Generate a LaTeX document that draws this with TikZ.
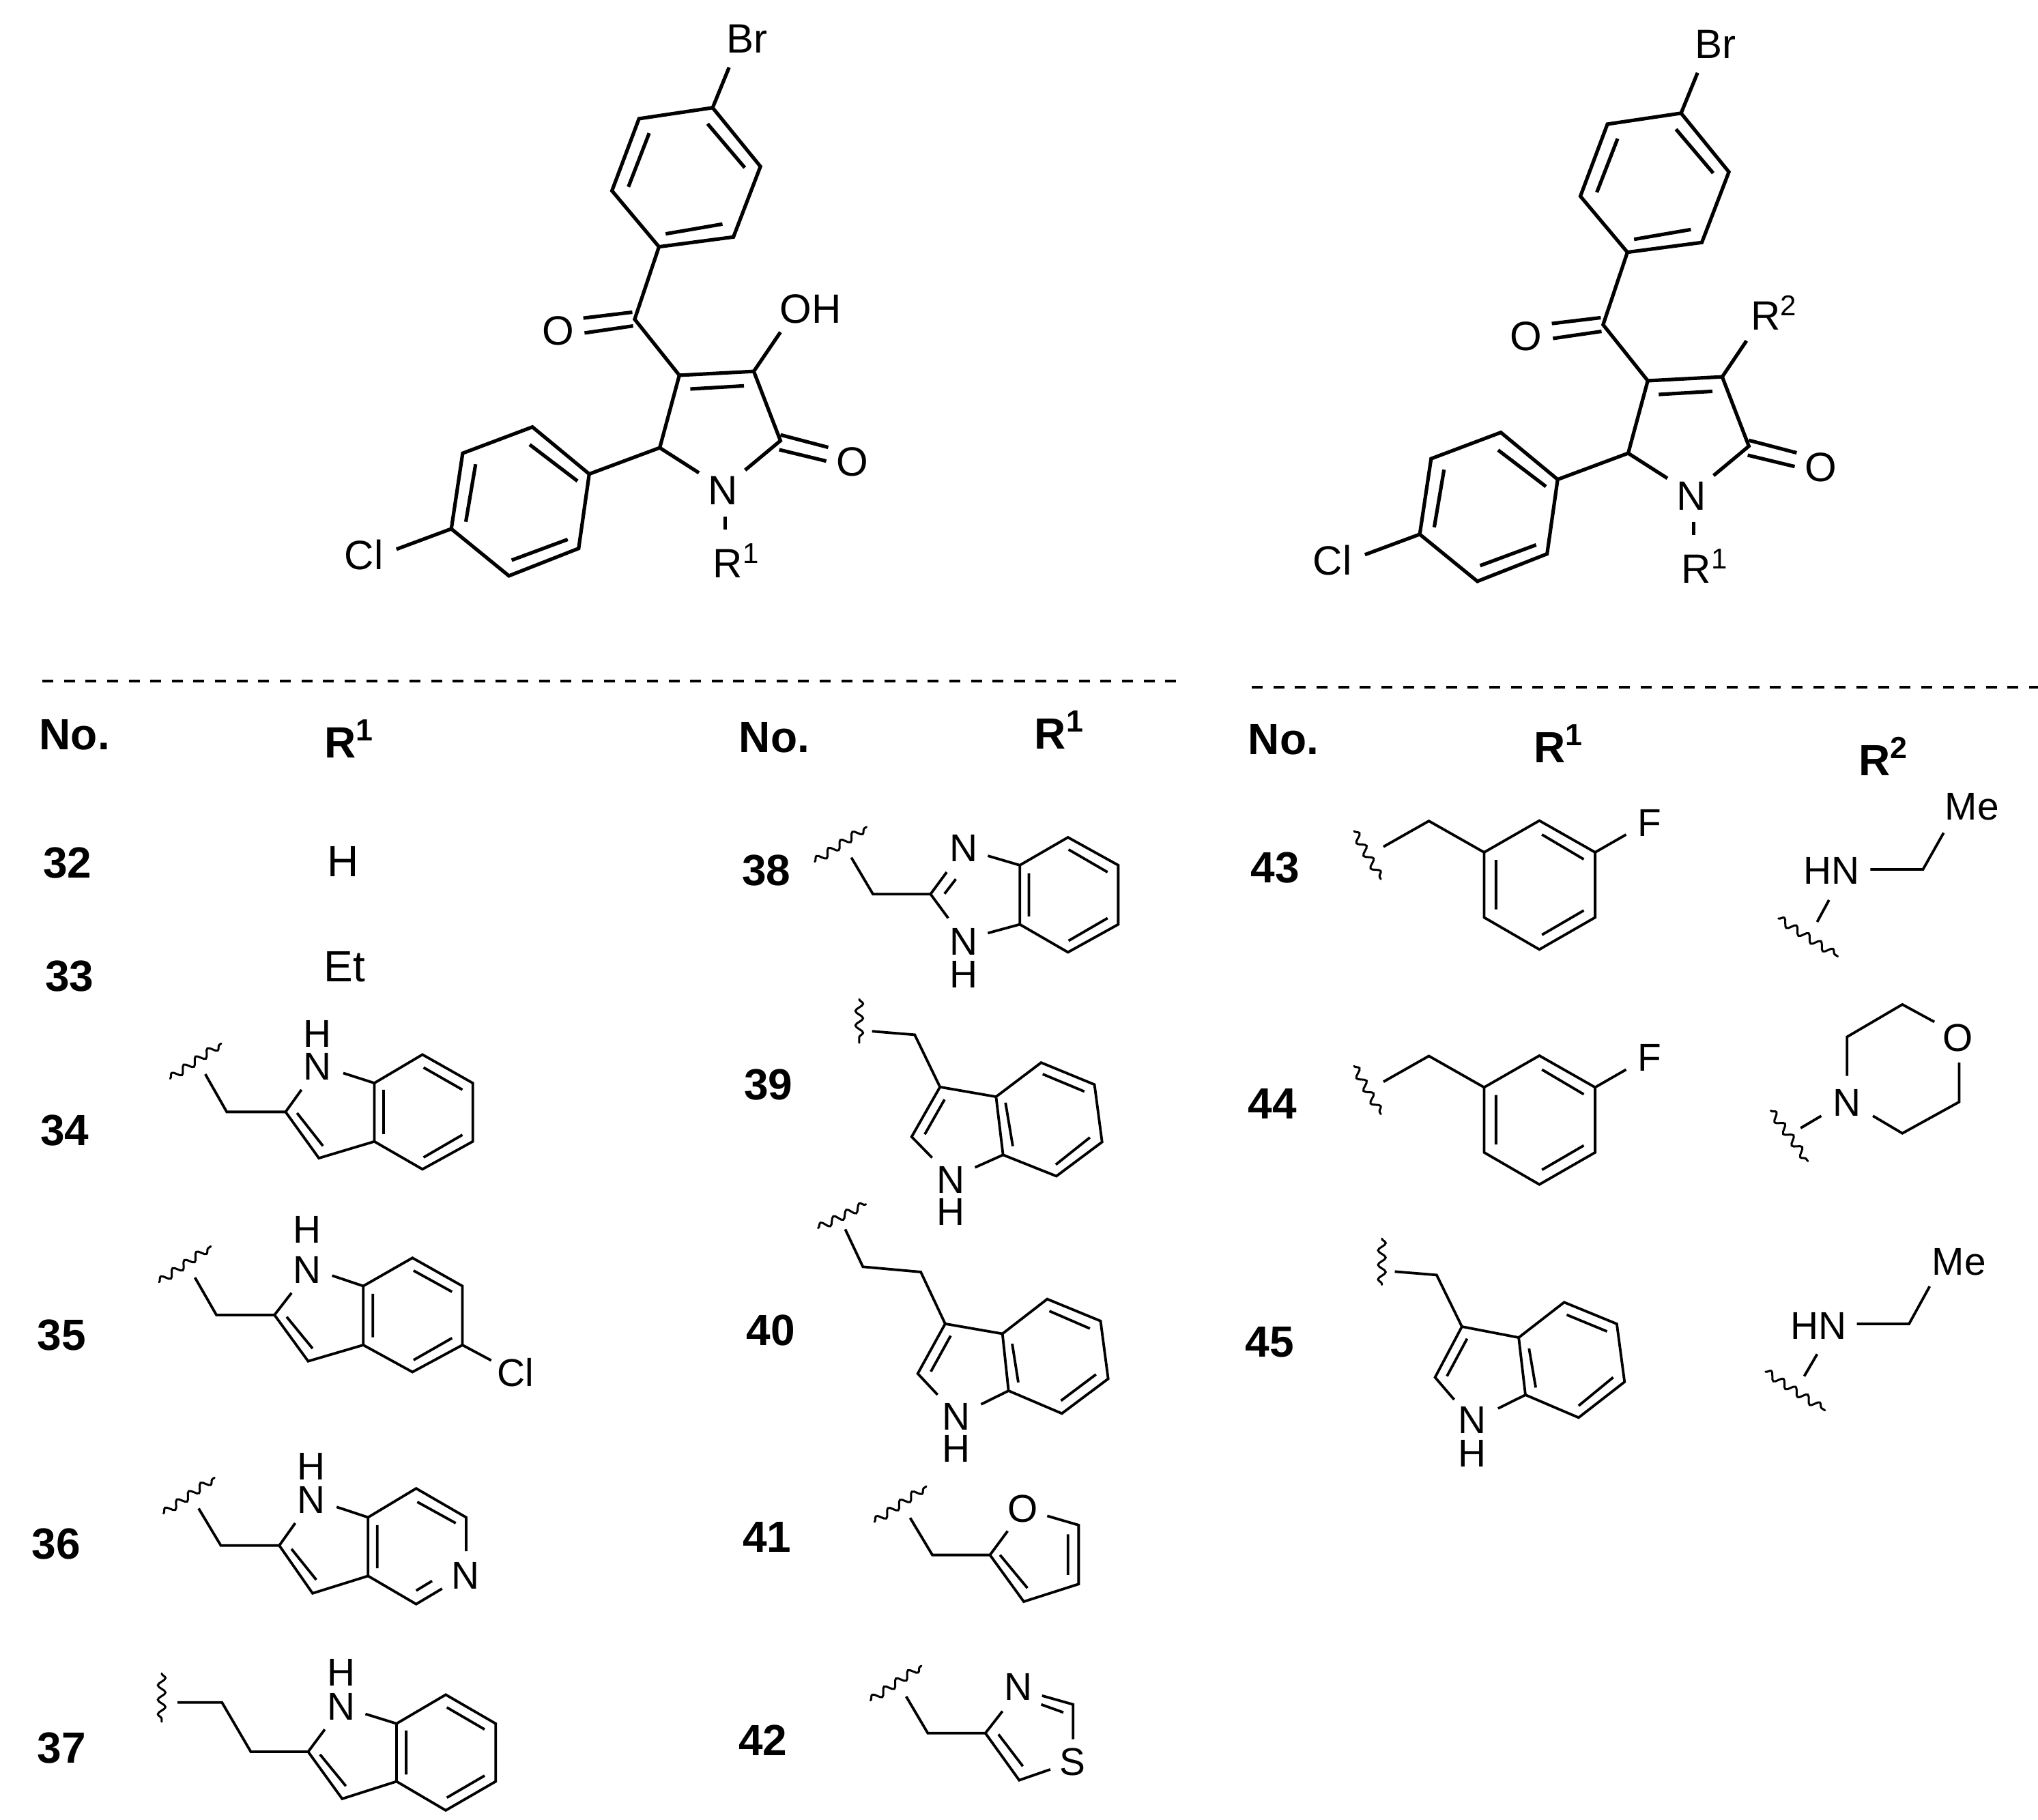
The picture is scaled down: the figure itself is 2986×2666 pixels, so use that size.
\documentclass[tikz,border=0pt]{standalone}
\usepackage{fontspec}
\setmainfont{Liberation Sans}
\usetikzlibrary{decorations.pathmorphing}
\tikzset{
  main/.style={line width=1.3pt,line join=miter,line cap=butt},
  bond/.style={line width=.95pt,line join=miter,line cap=butt},
  wavy/.style={line width=.75pt,line cap=round,decorate,decoration={snake,segment length=5.3pt,amplitude=1.4pt,pre length=0pt,post length=0pt}},
  sep/.style={line width=.95pt,dash pattern=on 4pt off 3.91pt},
  big/.style={font=\fontsize{15}{15}\selectfont,inner sep=0pt,anchor=base},
  bigl/.style={big,anchor=base west},
  lab/.style={font=\fontsize{14.2}{14.2}\selectfont,inner sep=0pt,anchor=base},
  plain/.style={font=\fontsize{16}{16}\selectfont,inner sep=0pt,anchor=base},
  num/.style={font=\fontsize{16}{16}\selectfont\bfseries,inner sep=0pt,anchor=base},
  numl/.style={num,anchor=base west},
  za/.style={x=.14351pt,y=-.14351pt},
  zc/.style={x=.1355pt,y=-.1355pt},
  zd/.style={x=.1355pt,y=-.14124pt},
  ze/.style={x=.11161pt,y=-.12755pt},
  zf/.style={x=.11161pt,y=-.14603pt},
  zg/.style={x=.18911pt,y=-.12755pt},
  zh/.style={x=.18911pt,y=-.08333pt},
}
\newcommand\corepart[1]{%
  \node[big] (#1Br) at (1122,135) {Br};
  \node[big] (#1Oa) at (640,880) {O};
  \node[big] (#1Ob) at (1392,1215) {O};
  \node[big] (#1N) at (1062,1288) {N};
  \node[big] (#1Cl) at (145,1453) {Cl};
  \node[bigl] (#1Ra) at (1035,1475) {R\textsuperscript{1}};
  \draw[main] (1077,172) -- (1035,275);
  \draw[main] (1035,275) -- (847,303) -- (778,487) -- (898,630) -- (1088,605) -- (1157,425) -- cycle;
  \draw[main] (1022,316) -- (1117,428) (873,340) -- (820,477) (915,597) -- (1060,572);
  \draw[main] (898,630) -- (836,815) -- (950,958);
  \draw[main] (705,812) -- (830,797) (708,850) -- (832,832);
  \draw[main] (950,958) -- (1140,948) -- (1208,1125) -- (1118,1200);
  \draw[main] (978,993) -- (1115,985);
  \draw[main] (1208,1110) -- (1330,1142) (1205,1148) -- (1325,1177);
  \draw[main] (1000,1207) -- (900,1143) -- (950,958);
  \draw[main] (1067,1318) -- (1067,1352);
  \draw[main] (900,1143) -- (720,1210);
  \draw[main] (720,1210) -- (575,1090) -- (397,1157) -- (368,1350) -- (515,1470) -- (693,1400) -- cycle;
  \draw[main] (568,1135) -- (690,1228) (430,1185) -- (405,1332) (522,1430) -- (665,1377);
  \draw[main] (368,1350) -- (228,1402);
}
\begin{document}
\begin{tikzpicture}[x=.25pt,y=-.25pt]
\useasboundingbox (0,0) rectangle (2986,2666);
\fill[white] (0,0) rectangle (2986,2666);
% top structures
\begin{scope}[shift={(450,0)},za]
  \corepart{a}
  \node[big] (aOH) at (1285,825) {OH};
  \draw[main] (1140,948) -- (1208,848);
\end{scope}
\begin{scope}[shift={(1868.9,8)},za]
  \corepart{b}
  \node[bigl] (bRb) at (1212,828) {R\textsuperscript{2}};
  \draw[main] (1140,948) -- (1202,856);
\end{scope}
% separators
\coordinate (sa) at (62,998);
\coordinate (sb) at (1723,998);
\coordinate (sc) at (1834,1007);
\coordinate (sd) at (2986,1007);
\draw[sep] (sa) -- (sb);
\draw[sep] (sc) -- (sd);
% column 1 top
\begin{scope}[shift={(0,960)},zc]
  \node[numl] (noa) at (105,255) {No.};
  \node[numl] (rah) at (875,277) {R\textsuperscript{1}};
  \node[num] (n32) at (182,603) {32};
  \node[num] (n33) at (188,908) {33};
  \node[num] (n34) at (175,1325) {34};
  \node[plain] (hh) at (927,598) {H};
  \node[plain] (et) at (932,882) {Et};
  \node[lab] (h34) at (858,1060) {H};
  \node[lab] (n34a) at (858,1148) {N};
  \draw[wavy] (460,1145) -- (598,1050);
  \draw[bond] (555,1133) -- (613,1235) -- (772,1235) -- (815,1175) (928,1130) -- (1012,1157);
  \draw[bond] (1012,1157) -- (1142,1080) -- (1278,1157) -- (1278,1315) -- (1142,1390) -- (1012,1315) -- cycle;
  \draw[bond] (1145,1115) -- (1250,1175) (1037,1175) -- (1037,1295) (1145,1358) -- (1250,1297);
  \draw[bond] (1012,1315) -- (862,1360) -- (772,1235) (873,1327) -- (803,1238);
\end{scope}
% column 1 lower
\begin{scope}[shift={(0,1780)},zd]
  \node[num] (n35) at (167,352) {35};
  \node[lab] (h35) at (830,73) {H};
  \node[lab] (n35a) at (830,177) {N};
  \node[lab] (cl35) at (1393,445) {Cl};
  \draw[wavy] (430,175) -- (570,82);
  \draw[bond] (527,163) -- (585,260) -- (742,260) -- (788,203) (898,158) -- (982,185);
  \draw[bond] (982,185) -- (1115,112) -- (1250,185) -- (1250,338) -- (1115,408) -- (982,338) -- cycle;
  \draw[bond] (1118,145) -- (1222,200) (1008,205) -- (1008,318) (1118,377) -- (1222,320);
  \draw[bond] (982,338) -- (833,380) -- (742,260) (845,347) -- (775,265);
  \draw[bond] (1250,338) -- (1328,378);
  %
  \node[num] (n36) at (152,893) {36};
  \node[lab] (h36) at (842,688) {H};
  \node[lab] (n36a) at (842,775) {N};
  \node[lab] (n36b) at (1258,970) {N};
  \draw[wavy] (442,775) -- (580,682);
  \draw[bond] (537,762) -- (597,858) -- (755,858) -- (798,800) (910,758) -- (995,785);
  \draw[bond] (995,785) -- (1125,710) -- (1260,785) -- (1260,873) (1195,970) -- (1125,1010) -- (995,937) -- (995,785);
  \draw[bond] (1128,745) -- (1232,800) (1020,805) -- (1020,917) (1125,975) -- (1168,950);
  \draw[bond] (995,937) -- (845,982) -- (755,858) (855,947) -- (788,867);
  %
  \node[num] (n37) at (167,1423) {37};
  \node[lab] (h37) at (922,1222) {H};
  \node[lab] (n37a) at (922,1310) {N};
  \draw[wavy] (437,1190) -- (437,1315);
  \draw[bond] (480,1265) -- (600,1265) -- (678,1393) -- (833,1393) -- (878,1335) (988,1295) -- (1072,1320);
  \draw[bond] (1072,1320) -- (1205,1245) -- (1340,1320) -- (1340,1470) -- (1205,1545) -- (1072,1470) -- cycle;
  \draw[bond] (1208,1278) -- (1310,1335) (1098,1338) -- (1098,1452) (1208,1512) -- (1310,1455);
  \draw[bond] (1072,1470) -- (925,1515) -- (833,1393) (935,1482) -- (865,1400);
\end{scope}
% column 2 upper
\begin{scope}[shift={(1050,1000)},ze]
  \node[numl] (nob) at (72,200) {No.};
  \node[numl] (rbh) at (1042,192) {R\textsuperscript{1}};
  \node[num] (n38) at (163,583) {38};
  \node[lab] (n38a) at (810,515) {N};
  \node[lab] (n38b) at (810,783) {N};
  \node[lab] (h38) at (810,878) {H};
  \draw[wavy] (322,515) -- (492,415);
  \draw[bond] (442,503) -- (513,608) -- (702,608) -- (755,545) (748,607) -- (785,565) (702,608) -- (760,677);
  \draw[bond] (890,498) -- (995,525) (890,720) -- (995,695);
  \draw[bond] (995,525) -- (1153,445) -- (1318,525) -- (1318,695) -- (1153,775) -- (995,695) -- cycle;
  \draw[bond] (1155,480) -- (1283,545) (1025,548) -- (1025,672) (1155,742) -- (1283,677);
  %
  \node[num] (n39) at (170,1198) {39};
  \node[lab] (n39a) at (768,1467) {N};
  \node[lab] (h39) at (768,1560) {H};
  \draw[wavy] (468,910) -- (468,1035);
  \draw[bond] (510,1002) -- (650,1012) -- (733,1162) -- (917,1190);
  \draw[bond] (917,1190) -- (1065,1092) -- (1240,1155) -- (1265,1320) -- (1115,1418) -- (940,1357) -- cycle;
  \draw[bond] (1070,1125) -- (1207,1175) (948,1207) -- (972,1332) (1113,1385) -- (1225,1307);
  \draw[bond] (733,1162) -- (640,1305) -- (707,1365) (748,1198) -- (683,1298) (848,1393) -- (940,1357);
\end{scope}
% column 2 lower
\begin{scope}[shift={(1050,1750)},zf]
  \node[num] (n40) at (178,380) {40};
  \node[lab] (n40a) at (787,592) {N};
  \node[lab] (h40) at (787,672) {H};
  \draw[wavy] (333,85) -- (490,25);
  \draw[bond] (422,88) -- (480,182) -- (670,195) -- (750,325) -- (938,350);
  \draw[bond] (938,350) -- (1085,263) -- (1260,318) -- (1285,463) -- (1133,550) -- (958,493) -- cycle;
  \draw[bond] (1092,293) -- (1225,337) (970,375) -- (990,472) (1130,518) -- (1245,452);
  \draw[bond] (750,325) -- (660,450) -- (725,503) (768,355) -- (703,445) (868,527) -- (958,493);
  %
  \node[num] (n41) at (165,898) {41};
  \node[lab] (o41) at (1005,822) {O};
  \draw[wavy] (518,822) -- (688,733);
  \draw[bond] (635,812) -- (708,905) -- (897,905) -- (955,845);
  \draw[bond] (1085,807) -- (1188,830) -- (1188,978) -- (1008,1022) -- (897,905);
  \draw[bond] (1153,853) -- (1153,955) (1020,988) -- (930,905);
  %
  \node[num] (n42) at (152,1408) {42};
  \node[lab] (n42a) at (990,1270) {N};
  \node[lab] (s42) at (1168,1458) {S};
  \draw[wavy] (505,1270) -- (672,1183);
  \draw[bond] (622,1260) -- (693,1352) -- (882,1352) -- (938,1297);
  \draw[bond] (1068,1258) -- (1170,1280) -- (1170,1367) (1065,1280) -- (1138,1300);
  \draw[bond] (1095,1443) -- (993,1470) -- (882,1352) (1005,1435) -- (925,1355);
\end{scope}
% column 3
\begin{scope}[shift={(1800,1000)},zg]
  \node[numl] (noc) at (37,207) {No.};
  \node[numl] (rch) at (590,230) {R\textsuperscript{1}};
  \node[numl] (rdh) at (1220,268) {R\textsuperscript{2}};
  \node[num] (n43) at (90,575) {43};
  \node[num] (n44) at (85,1253) {44};
  \node[lab] (f43) at (815,442) {F};
  \draw[wavy] (243,427) -- (295,565);
  \draw[bond] (300,472) -- (388,398) -- (495,488);
  \draw[bond] (495,488) -- (602,397) -- (710,488) -- (710,675) -- (602,767) -- (495,675) -- cycle;
  \draw[bond] (607,437) -- (688,508) (518,510) -- (518,652) (607,725) -- (688,655);
  \draw[bond] (710,488) -- (770,437);
  \node[lab] (f44) at (815,1117) {F};
  \draw[wavy] (243,1102) -- (295,1240);
  \draw[bond] (300,1147) -- (388,1073) -- (495,1163);
  \draw[bond] (495,1163) -- (602,1072) -- (710,1163) -- (710,1350) -- (602,1442) -- (495,1350) -- cycle;
  \draw[bond] (607,1112) -- (688,1183) (518,1185) -- (518,1327) (607,1400) -- (688,1330);
  \draw[bond] (710,1163) -- (770,1112);
  \node[lab] (me43) at (1440,395) {Me};
  \node[lab] (hn43) at (1168,580) {HN};
  \draw[bond] (1385,432) -- (1345,537) -- (1243,537) (1163,625) -- (1140,688);
  \draw[wavy] (1065,678) -- (1180,787);
  \node[lab] (o44) at (1412,1060) {O};
  \node[lab] (n44a) at (1198,1245) {N};
  \draw[bond] (1198,1130) -- (1198,1018) -- (1305,925) -- (1367,975);
  \draw[bond] (1415,1092) -- (1415,1205) -- (1305,1295) -- (1248,1245);
  \draw[bond] (1148,1245) -- (1108,1280);
  \draw[wavy] (1050,1230) -- (1122,1375);
\end{scope}
\begin{scope}[shift={(1800,1750)},zh]
  \node[num] (n45) at (80,715) {45};
  \node[lab] (n45a) at (472,1052) {N};
  \node[lab] (h45) at (472,1197) {H};
  \draw[wavy] (297,195) -- (297,398);
  \draw[bond] (322,340) -- (403,355) -- (452,582) -- (562,630);
  \draw[bond] (562,630) -- (650,475) -- (752,570) -- (767,825) -- (678,982) -- (575,882) -- cycle;
  \draw[bond] (655,530) -- (733,603) (582,678) -- (595,850) (678,930) -- (745,805);
  \draw[bond] (452,582) -- (400,805) -- (437,903) (462,635) -- (423,800) (522,942) -- (575,882);
  \node[lab] (me45) at (1415,355) {Me};
  \node[lab] (hn45) at (1143,638) {HN};
  \draw[bond] (1358,405) -- (1318,570) -- (1217,570) (1140,703) -- (1115,800);
  \draw[wavy] (1040,780) -- (1155,950);
\end{scope}
\end{tikzpicture}
\end{document}
